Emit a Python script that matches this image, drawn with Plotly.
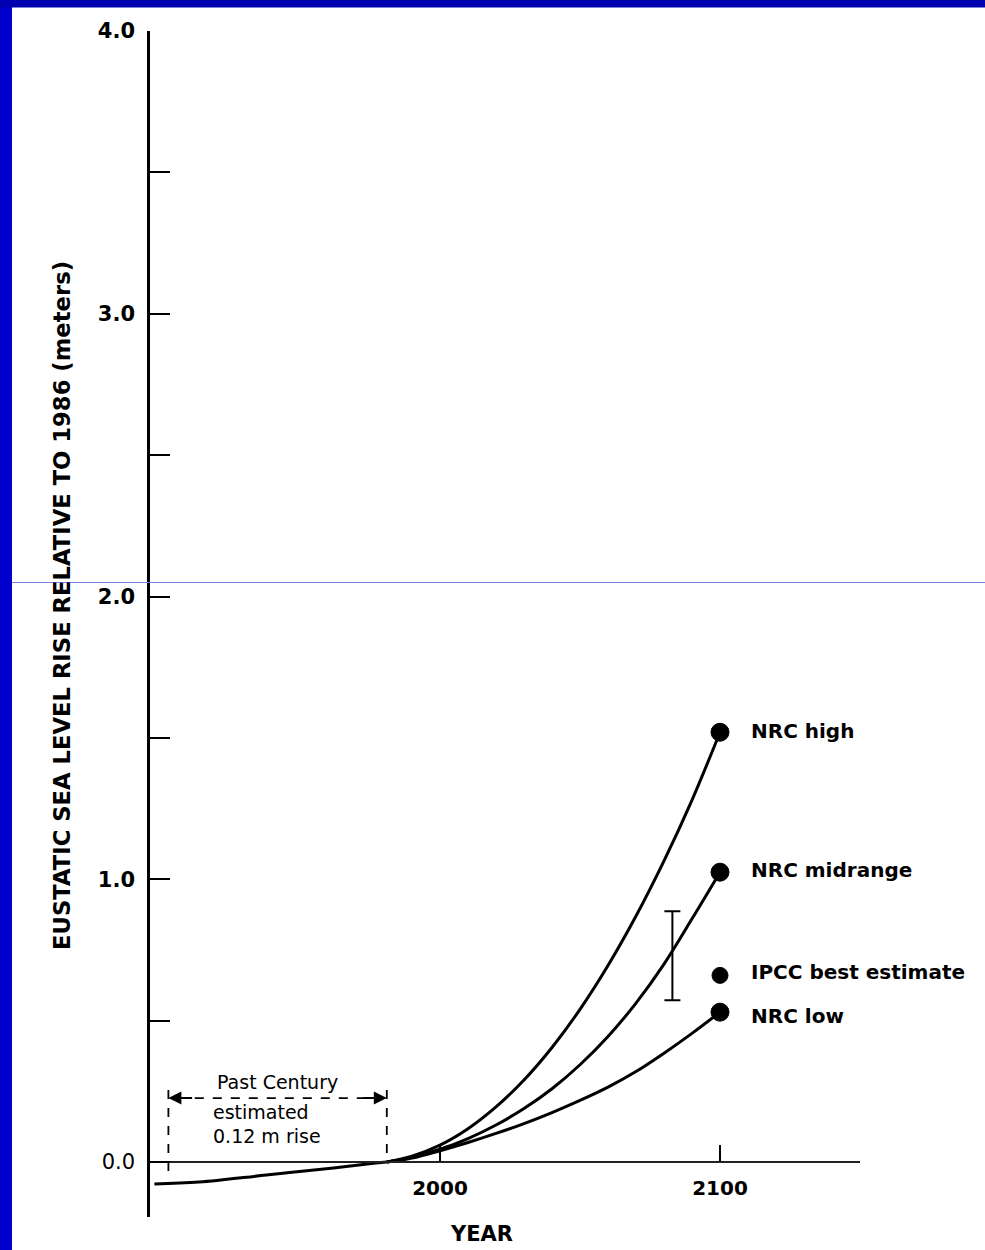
import plotly.graph_objects as go

# ---------------- data ----------------
past_years = [1898, 1914, 1938, 1962, 1974, 1981]
past_level = [-0.078, -0.071, -0.046, -0.021, -0.007, 0.0]

future_years = [1981, 1990, 2000, 2010, 2020, 2030, 2040, 2050, 2060, 2070, 2080, 2090, 2100]
high_level = [0.0, 0.021, 0.06, 0.118, 0.195, 0.29, 0.405, 0.54, 0.695, 0.87, 1.065, 1.28, 1.52]
mid_level = [0.0, 0.017, 0.045, 0.083, 0.131, 0.189, 0.259, 0.344, 0.444, 0.562, 0.70, 0.86, 1.025]
low_level = [0.0, 0.014, 0.04, 0.069, 0.101, 0.136, 0.175, 0.218, 0.265, 0.32, 0.385, 0.455, 0.53]

end_year = 2100
scenario_names = ["NRC high", "NRC midrange", "IPCC best estimate", "NRC low"]
scenario_values = [1.52, 1.025, 0.66, 0.53]
label_values = [1.524, 1.033, 0.672, 0.516]

ipcc_range_year = 2083
ipcc_range_low = 0.572
ipcc_range_high = 0.887
ipcc_range_mid = 0.73

past_century_start = 1903
past_century_end = 1981
past_bracket_level = 0.226
past_bracket_top = 0.255
past_left_bottom = -0.053

y_tickvals = [0, 0.5, 1.0, 1.5, 2.0, 2.5, 3.0, 3.5, 4.0]
y_ticktext = ["0.0", "", "<b>1.0</b>", "", "<b>2.0</b>", "", "<b>3.0</b>", "", "<b>4.0</b>"]
x_tickvals = [2000, 2100]
x_ticktext = ["<b>2000</b>", "<b>2100</b>"]

FONT = "DejaVu Sans"
W, H = 985, 1250
L, R, T, B = 150, 125, 31, 33
PW, PH = W - L - R, H - T - B
Y0, Y1 = -0.1945, 4.0
X0, X1 = 1896.43, 2150.0


def px_x(p):  # pixel -> paper x
    return (p - L) / PW


def px_y(p):  # pixel -> paper y
    return (H - B - p) / PH


fig = go.Figure()

curve_line = dict(color="black", width=3, shape="spline", smoothing=1.0)
fig.add_trace(go.Scatter(x=past_years, y=past_level, mode="lines", line=curve_line, hoverinfo="skip"))
fig.add_trace(go.Scatter(x=future_years, y=high_level, mode="lines", line=curve_line, hoverinfo="skip"))
fig.add_trace(go.Scatter(x=future_years, y=mid_level, mode="lines", line=curve_line, hoverinfo="skip"))
fig.add_trace(go.Scatter(x=future_years, y=low_level, mode="lines", line=curve_line, hoverinfo="skip"))

# end-point dots
fig.add_trace(go.Scatter(x=[end_year] * len(scenario_values), y=scenario_values, mode="markers",
                         marker=dict(color="black", size=[18, 18, 16, 18], opacity=1,
                                     line=dict(color="black", width=1)),
                         hoverinfo="skip"))

# IPCC range error bar
fig.add_trace(go.Scatter(x=[ipcc_range_year], y=[ipcc_range_mid], mode="markers",
                         marker=dict(size=1, color="black"),
                         error_y=dict(type="data", symmetric=False,
                                      array=[ipcc_range_high - ipcc_range_mid],
                                      arrayminus=[ipcc_range_mid - ipcc_range_low],
                                      thickness=2, width=8, color="black"),
                         hoverinfo="skip"))

# Past century bracket
dash_style = dict(color="black", width=1.8, dash="dash")
fig.add_trace(go.Scatter(x=[past_century_start + 3, past_century_end - 3],
                         y=[past_bracket_level, past_bracket_level], mode="lines",
                         line=dict(color="black", width=1.6, dash="dash"), hoverinfo="skip"))
fig.add_trace(go.Scatter(x=[past_century_start, past_century_start],
                         y=[past_bracket_top, past_left_bottom], mode="lines",
                         line=dash_style, hoverinfo="skip"))
fig.add_trace(go.Scatter(x=[past_century_end, past_century_end],
                         y=[past_bracket_top, 0.0], mode="lines",
                         line=dash_style, hoverinfo="skip"))

annotations = []
# arrows of the bracket
annotations.append(dict(x=past_century_start, y=past_bracket_level, ax=past_century_start + 9,
                        ay=past_bracket_level, xref="x", yref="y", axref="x", ayref="y",
                        text="", showarrow=True, arrowhead=2, arrowsize=1.3, arrowwidth=2,
                        arrowcolor="black"))
annotations.append(dict(x=past_century_end, y=past_bracket_level, ax=past_century_end - 9,
                        ay=past_bracket_level, xref="x", yref="y", axref="x", ayref="y",
                        text="", showarrow=True, arrowhead=2, arrowsize=1.3, arrowwidth=2,
                        arrowcolor="black"))

annotations.append(dict(x=px_x(277), y=px_y(1082), xref="paper", yref="paper",
                        text="Past Century", showarrow=False, xanchor="center", yanchor="middle",
                        font=dict(family=FONT, size=19, color="black")))
annotations.append(dict(x=px_x(211), y=px_y(1112), xref="paper", yref="paper",
                        text="estimated", showarrow=False, xanchor="left", yanchor="middle",
                        font=dict(family=FONT, size=19, color="black")))
annotations.append(dict(x=px_x(211), y=px_y(1136), xref="paper", yref="paper",
                        text="0.12 m rise", showarrow=False, xanchor="left", yanchor="middle",
                        font=dict(family=FONT, size=19, color="black")))

# scenario labels
for name, val in zip(scenario_names, label_values):
    annotations.append(dict(x=px_x(749), y=val, xref="paper", yref="y", text="<b>" + name + "</b>",
                            showarrow=False, xanchor="left", yanchor="middle",
                            font=dict(family=FONT, size=20, color="black")))

# axis titles
annotations.append(dict(x=px_x(62), y=px_y(606), xref="paper", yref="paper",
                        text="<b>EUSTATIC SEA LEVEL RISE RELATIVE TO 1986 (meters)</b>",
                        textangle=-90, showarrow=False, xanchor="center", yanchor="middle",
                        font=dict(family=FONT, size=22.7, color="black")))
annotations.append(dict(x=px_x(481), y=px_y(1234), xref="paper", yref="paper",
                        text="<b>YEAR</b>", showarrow=False, xanchor="center", yanchor="middle",
                        font=dict(family=FONT, size=21, color="black")))

shapes = [
    # blue slide frame
    dict(type="rect", xref="paper", yref="paper", x0=px_x(0), x1=px_x(12), y0=px_y(1250), y1=px_y(0),
         fillcolor="#0000CC", line=dict(width=0), layer="above"),
    dict(type="rect", xref="paper", yref="paper", x0=px_x(0), x1=px_x(985), y0=px_y(7.5), y1=px_y(0),
         fillcolor="#0000B0", line=dict(width=0), layer="above"),
    dict(type="line", xref="paper", yref="paper", x0=px_x(12), x1=px_x(985), y0=px_y(582.5), y1=px_y(582.5),
         line=dict(color="#7E7EE2", width=1), layer="above"),
]

fig.update_layout(
    width=W, height=H,
    margin=dict(l=L, r=R, t=T, b=B, pad=0),
    paper_bgcolor="white", plot_bgcolor="white",
    showlegend=False,
    font=dict(family=FONT, color="black"),
    annotations=annotations,
    shapes=shapes,
    xaxis=dict(range=[X0, X1], tickvals=x_tickvals, ticktext=x_ticktext,
               anchor="free", position=(0 - Y0) / (Y1 - Y0),
               showline=True, linecolor="#222222", linewidth=1.6,
               ticks="inside", ticklen=16, tickwidth=2, tickcolor="black",
               ticklabelstandoff=8,
               tickfont=dict(family=FONT, size=20, color="black"),
               showgrid=False, zeroline=False, fixedrange=True),
    yaxis=dict(range=[Y0, Y1], tickvals=y_tickvals, ticktext=y_ticktext,
               showline=True, linecolor="black", linewidth=2.5,
               ticks="inside", ticklen=20, tickwidth=2, tickcolor="black",
               ticklabelstandoff=8,
               tickfont=dict(family=FONT, size=21, color="black"),
               showgrid=False, zeroline=False, fixedrange=True),
)

fig.write_html("out.html", config={"displayModeBar": False},
               post_script="document.body.style.margin='0px';document.body.style.overflow='hidden';")
